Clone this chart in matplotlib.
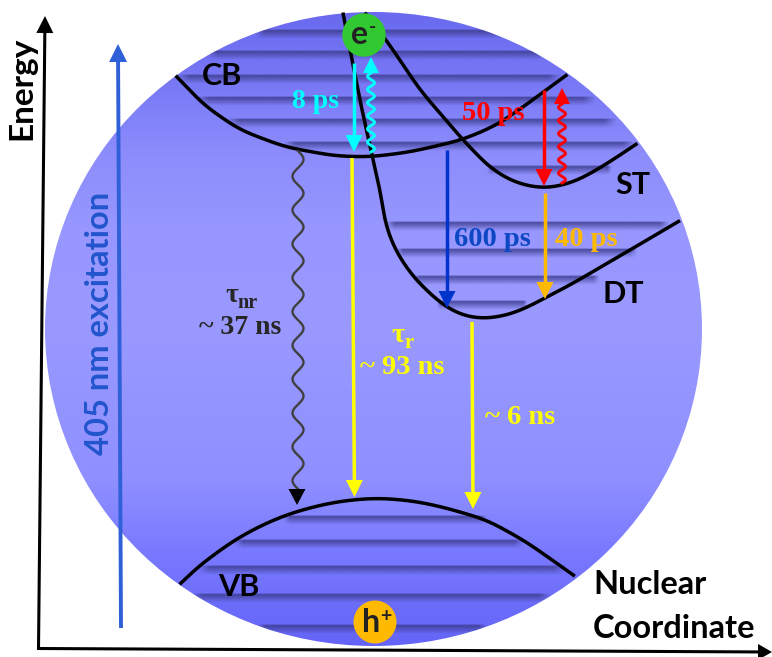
import numpy as np
import matplotlib
matplotlib.use("Agg")
import matplotlib.pyplot as plt
from matplotlib.patches import Ellipse, Circle
from matplotlib.colors import LinearSegmentedColormap

W, H = 772, 657

cb_curve = [(176,76),(205,106),(240,130),(285,147),(335,156),(370,157),(410,152),(462,140),(497,125),(523,107),(568,74)]
st_curve = [(365,13),(387,41),(420,90),(463,140),(490,168),(515,183),(545,189),(575,182),(605,165),(638,143)]
dt_curve = [(343,13),(352,60),(362,110),(371,150),(381,195),(385,223),(395,250),(413,277),(440,303),(460,315),(480,319),(500,317),(520,311),(570,285),(630,250),(681,220)]
vb_curve = [(180,584),(200,565),(233,541),(258,527),(283,516),(305,509),(330,503),(350,500),(377,498),(405,500),(425,503),(450,509),(487,520),(525,541),(555,562),(576,577)]

band_rows = [31,52,76,98,120,143,167,223,250,277,302,517,541,567,595,626]
band_left = [255,205,176,195,226,283,487,385,395,413,437,283,233,197,190,257]
band_right = [510,550,562,597,618,636,612,670,638,600,527,487,525,567,552,487]

arrow_x0 = [354,544,447,545,352,472]
arrow_x1 = [354,544,447,545,354.5,473]
arrow_y0 = [63,90,150,193,158,322]
arrow_y1 = [152,186,308,299,497,509]
arrow_col = ["#00ffff","#ff0000","#0033cc","#ffb900","#ffff00","#ffff00"]

fig = plt.figure(figsize=(W/100, H/100), dpi=100)
ax = fig.add_axes([0,0,1,1])
ax.set_xlim(0,W); ax.set_ylim(H,0); ax.axis("off")

def smooth(pts, win=60):
    p = np.array(pts, float)
    t = np.r_[0, np.cumsum(np.hypot(*np.diff(p, axis=0).T))]
    tt = np.arange(0, t[-1], 1.0)
    x, y = np.interp(tt,t,p[:,0]), np.interp(tt,t,p[:,1])
    k = np.hanning(win); k /= k.sum()
    out = []
    for v in (x,y):
        pad = np.r_[2*v[0]-v[win:0:-1], v, 2*v[-1]-v[-2:-win-2:-1]]
        out.append(np.convolve(pad,k,mode="same")[win:-win])
    return out

ell = Ellipse((373.5,329), 657, 634, fc="none", ec="none")
ax.add_patch(ell)
bg = LinearSegmentedColormap.from_list("bg",[(0,"#6a6af0"),(0.107,"#7878f6"),(0.22,"#8c8cfc"),(0.34,"#9797ff"),(0.5,"#9999ff"),(0.74,"#8f8fff"),(0.86,"#7878ff"),(1,"#6464f8")])
g = np.linspace(0,1,400)[:,None]
im = ax.imshow(g, cmap=bg, extent=(45,702,646,12), aspect="auto", zorder=1)
im.set_clip_path(ell)

for y,x0,x1 in zip(band_rows, band_left, band_right):
    rgba = np.zeros((40,240,4))
    rgba[...,:3] = np.array([60,60,140])/255
    s = np.linspace(0,1,40)
    fy = np.where(s<0.12, s/0.12, 1-(s-0.12)/0.88)
    fx = np.clip(np.minimum(np.linspace(0,1,240),np.linspace(1,0,240))*30,0,1)
    rgba[...,3] = 0.85*fy[:,None]*fx[None,:]
    b = ax.imshow(rgba, extent=(x0,x1,y+8,y-2), aspect="auto", zorder=2, interpolation="bilinear")
    b.set_clip_path(ell)
ax.set_xlim(0,W); ax.set_ylim(H,0)

for c in (cb_curve, st_curve, dt_curve, vb_curve):
    sx,sy = smooth(c)
    ax.plot(sx, sy, color="black", lw=2.5, zorder=4, solid_capstyle="butt")

def arrow(x0,y0,x1,y1,col,lw=2.5,hw=8.5,hl=17,z=5):
    d = np.array([x1-x0,y1-y0],float); L = np.hypot(*d); d/=L; n = np.array([-d[1],d[0]])
    tip = np.array([x1,y1],float); base = tip-d*hl
    ax.plot([x0,base[0]],[y0,base[1]],color=col,lw=lw,zorder=z,solid_capstyle="butt")
    ax.fill(*zip(tip,base+n*hw,base-n*hw),color=col,zorder=z,lw=0)

def wavy(x,y0,y1,col,amp,waves,lw=1.6,hw=8,hl=16,z=5):
    sgn = -1 if y1<y0 else 1
    yb = y1-sgn*hl
    yy = np.linspace(y0,yb,400)
    xx = x+amp*np.sin((yy-y0)/(yb-y0)*2*np.pi*waves)
    ax.plot(xx,yy,color=col,lw=lw,zorder=z)
    ax.fill([x,x-hw,x+hw],[y1,yb,yb],color=col,zorder=z,lw=0)

for a,b,c,d,col in zip(arrow_x0,arrow_y0,arrow_x1,arrow_y1,arrow_col):
    arrow(a,b,c,d,col)

wavy(371,152,57,"#00ffff",3.5,6,lw=2.1)
wavy(562,183,88,"#ff0000",3.5,6,lw=2.1)
wavy(298,151,489,"#404040",5.5,10,lw=1.7,hw=0,hl=0)
ax.fill([297,288.5,305.5],[505,489,489],color="black",zorder=6,lw=0)

arrow(121,628,118,44,"#2f60d8",lw=2.8,hw=9,hl=18)
arrow(38.5,649,45,16,"black",lw=2.2,hw=8.5,hl=17)
arrow(37,648.5,772,652,"black",lw=2.2,hw=8,hl=14)

ax.add_patch(Circle((364,35),21.7,fc="#32c832",ec="none",zorder=7))
ax.add_patch(Circle((375,622),21.5,fc="#ffb900",ec="none",zorder=7))

serif = dict(family="Liberation Serif", weight="bold", zorder=8, va="center", ha="center")
sans = dict(family="Lato", weight="bold", zorder=8, va="center", ha="center")
ax.text(360,35,"e",fontsize=23,color="#222222",**sans)
ax.text(373,27,"-",fontsize=14,color="#222222",**sans)
ax.text(371,622,"h",fontsize=23,color="#222222",**sans)
ax.text(386,616,"+",fontsize=14,color="#222222",**sans)
ax.text(222,76,"CB",fontsize=22,color="black",**sans)
ax.text(633,185,"ST",fontsize=22,color="black",**sans)
ax.text(623,294,"DT",fontsize=22,color="black",**sans)
ax.text(239,587,"VB",fontsize=22,color="black",**sans)
ax.text(593,585,"Nuclear",fontsize=23.5,color="black",**{**sans,"ha":"left"})
ax.text(593,629,"Coordinate",fontsize=23.5,color="black",**{**sans,"ha":"left"})
ax.text(22,88,"Energy",fontsize=24,color="black",rotation=90,**sans)
ax.text(100,323,"405 nm excitation",fontsize=23.5,color="#2255cc",rotation=90,**sans)
ax.text(316,101,"8 ps",fontsize=20,color="#00ffff",**serif)
ax.text(493,114,"50 ps",fontsize=20.5,color="#ff0000",**serif)
ax.text(492,239,"600 ps",fontsize=20.5,color="#0d47c4",**serif)
ax.text(586,239,"40 ps",fontsize=20.5,color="#ffb900",**serif)
ax.text(520,418,"~ 6 ns",fontsize=20.5,color="#ffff00",**serif)
ax.text(402,367,"~ 93 ns",fontsize=20.5,color="#ffff00",**serif)
ax.text(398,335,"τ",fontsize=20.5,color="#ffff00",**serif)
ax.text(409,343,"r",fontsize=15,color="#ffff00",**serif)
ax.text(232,296,"τ",fontsize=20,color="#262626",**serif)
ax.text(247,303,"nr",fontsize=14.5,color="#262626",**serif)
ax.text(240,327,"~ 37 ns",fontsize=20,color="#262626",**serif)

fig.savefig("out.png", dpi=100)
